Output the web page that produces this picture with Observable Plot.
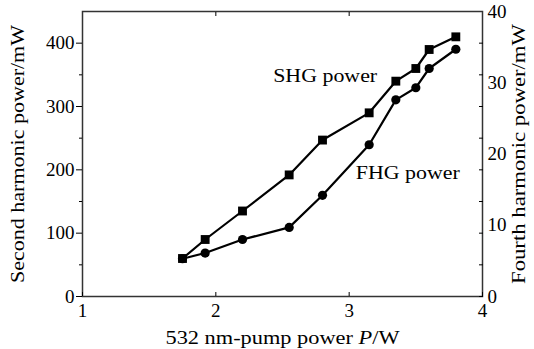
<!DOCTYPE html>
<html>
<head>
<meta charset="utf-8">
<script src="https://cdn.jsdelivr.net/npm/d3@7"></script>
<script src="https://cdn.jsdelivr.net/npm/@observablehq/plot@0.6"></script>
<style>
  html, body { margin: 0; padding: 0; background: #fff; }
  #chart svg { display: block; }
</style>
</head>
<body>
<div id="chart"></div>
<script>
// Data
const pump = [1.75, 1.92, 2.2, 2.55, 2.8, 3.15, 3.35, 3.5, 3.6, 3.8];       // 532 nm pump power (W)
const shg  = [60, 90, 135, 192, 247, 290, 340, 360, 390, 410];             // SHG power (mW), left axis
const fhg  = [5.3, 6.1, 8.0, 9.7, 14.2, 21.3, 27.6, 29.3, 32.0, 34.7];     // FHG power (mW), right axis

const xTicks = [1, 2, 3, 4];
const leftMajor = [0, 100, 200, 300, 400];
const leftMinor = [50, 150, 250, 350];
const rightTicks = [0, 10, 20, 30, 40];
const leftMax = 450, rightMax = 40;
const k = leftMax / rightMax;   // right-axis value -> left-axis units

const shgData = pump.map((x, i) => ({x, y: shg[i]}));
const fhgData = pump.map((x, i) => ({x, y: fhg[i] * k}));

const font = "Liberation Serif, Times New Roman, serif";
const xTitle = "532 nm-pump power P/W";
const yTitle = "Second harmonic power/mW";
const y2Title = "Fourth harmonic power/mW";

const chart = Plot.plot({
  width: 534,
  height: 349,
  marginLeft: 82,
  marginRight: 52,
  marginTop: 11,
  marginBottom: 53,
  style: {fontFamily: font, fontSize: "19px", color: "#000", background: "#fff"},
  x: {domain: [1, 4]},
  y: {domain: [0, leftMax]},
  marks: [
    Plot.frame({stroke: "#333", strokeWidth: 1.5}),
    // left axis
    Plot.axisY(leftMajor, {anchor: "left", tickSize: 6, tickPadding: 2, fontSize: 19,
      label: yTitle, labelAnchor: "center", labelOffset: 72, labelArrow: "none"}),
    Plot.axisY(leftMinor, {anchor: "left", tickSize: 3, tickFormat: () => "", label: null}),
    // right axis: tick marks mirror the left ones, labels follow the FHG scale
    Plot.axisY(leftMajor.concat(leftMinor), {anchor: "right", tickSize: -4, tickFormat: () => "", label: null}),
    Plot.axisY(rightTicks.map(v => v * k), {anchor: "right", tickSize: 0, tickPadding: 5, fontSize: 19,
      tickFormat: d => Math.round(d / k),
      label: y2Title, labelAnchor: "center", labelOffset: 42, labelArrow: "none"}),
    // bottom axis
    Plot.axisX(xTicks, {anchor: "bottom", tickSize: -4, tickPadding: 11, fontSize: 19,
      tickFormat: d => String(d),
      label: xTitle, labelAnchor: "center", labelOffset: 47, labelArrow: "none"}),
    Plot.axisX(xTicks.slice(1, 3), {anchor: "top", tickSize: -4, tickFormat: () => "", label: null}),
    // series
    Plot.line(shgData, {x: "x", y: "y", stroke: "#000", strokeWidth: 2.2}),
    Plot.dot(shgData, {x: "x", y: "y", symbol: "square", r: 5, fill: "#000", stroke: "none"}),
    Plot.line(fhgData, {x: "x", y: "y", stroke: "#000", strokeWidth: 2.2}),
    Plot.dot(fhgData, {x: "x", y: "y", symbol: "circle", r: 4.6, fill: "#000", stroke: "none"}),
    // annotations
    Plot.text(["SHG power"], {x: 2.82, y: 348, text: d => d, fontSize: 19, fill: "#000"}),
    Plot.text(["FHG power"], {x: 3.44, y: 195, text: d => d, fontSize: 19, fill: "#000"})
  ]
});

// widen texts to match the reference's stretched lettering; italicise P
const lengths = {[xTitle]: 234, [yTitle]: 258, [y2Title]: 260, "SHG power": 104, "FHG power": 104};
d3.select(chart).selectAll("text").each(function() {
  const s = this.textContent;
  if (s in lengths) {
    const t = d3.select(this);
    t.attr("textLength", lengths[s]).attr("lengthAdjust", "spacingAndGlyphs");
    if (s === xTitle) {
      t.text(null);
      t.append("tspan").text("532 nm-pump power ");
      t.append("tspan").attr("font-style", "italic").text("P");
      t.append("tspan").text("/W");
    }
  }
});

document.getElementById("chart").appendChild(chart);
</script>
</body>
</html>
